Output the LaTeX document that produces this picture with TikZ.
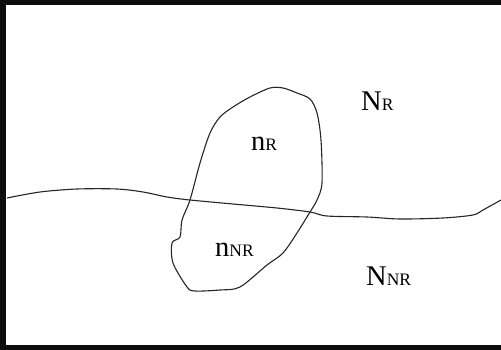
\documentclass[tikz,border=0pt]{standalone}
\usepackage{fontspec}
\setmainfont{Liberation Serif}
\begin{document}
\begin{tikzpicture}[x=1pt,y=-1pt,
  curve/.style={line width=1.1pt,draw=black!85,line join=round},
  lbl/.style={inner sep=0pt,anchor=base west,font=\fontsize{28.5}{28.5}\selectfont}]
\newcommand\subtxt[1]{{\fontsize{17.5}{17.5}\selectfont #1}}
\useasboundingbox (0,0) rectangle (501,350);
\fill[white] (0,0) rectangle (501,350);
% frame (right side cropped)
\draw[line width=5.5pt,draw=black!95] (505,2.5) -- (3,2.5) -- (3,348) -- (505,348);
% wavy line
\draw[curve] plot[smooth,tension=0.5] coordinates {
 (7,198) (40,192) (77,189) (117,189) (143,192) (167,197) (190,200) (233,204)
 (277,208) (310,212) (327,216) (367,217) (400,219) (443,218) (473,215)
 (483,210) (501,200)};
% loop
\draw[curve] plot[smooth cycle,tension=0.5] coordinates {
 (270,88) (283,88) (297,93) (310,99) (317,113) (321,140) (322,183)
 (317,200) (310,212) (297,233) (283,253) (267,265) (240,287) (220,290)
 (195,291) (187,287) (173,263) (172,243) (180,237) (182,220) (190,200)
 (200,163) (210,133) (220,117) (233,107) (250,97)};
% labels
\node[lbl] (NR) at (361,111) {N\subtxt{R}};
\node[lbl] (nR) at (251,151) {n\subtxt{R}};
\node[lbl] (nNR) at (215,256) {n\subtxt{NR}};
\node[lbl] (NNR) at (366,285) {N\subtxt{NR}};
\end{tikzpicture}
\end{document}
